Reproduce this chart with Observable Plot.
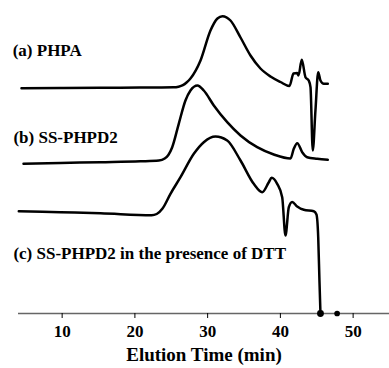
<!DOCTYPE html>
<html>
<head>
<meta charset="utf-8">
<script src="https://cdn.jsdelivr.net/npm/d3@7"></script>
<script src="https://cdn.jsdelivr.net/npm/@observablehq/plot@0.6"></script>
<style>
  html, body { margin: 0; padding: 0; background: #fff; }
</style>
</head>
<body>
<div id="chart"></div>
<script>
// Elution time (min) and detector response (arbitrary units, stacked traces)
const timeA = [4.41, 9.8, 15.2, 20.7, 25.3, 26.0, 26.6, 27.1, 27.64, 29.02, 30.39, 31.35, 32.04, 33.14, 34.52, 35.89, 37.26, 38.64, 40.01, 41.25, 41.80, 42.31, 42.49, 42.94, 43.45, 43.90, 44.14, 44.45, 44.82, 45.20, 45.51, 45.97, 46.52];
const respA = [225.3, 225.5, 225.7, 226.0, 226.2, 226.8, 228.3, 231, 235, 253, 283, 295, 297.3, 293, 276, 258, 245, 237, 231.5, 227.5, 240, 240.5, 238, 253.7, 236.3, 233, 226.3, 163, 203, 241.3, 233, 229.7, 229.7];

const timeB = [4.69, 9.77, 15.27, 20.77, 23.3, 24.1, 24.6, 25.13, 26.03, 26.95, 27.64, 28.60, 29.47, 30.85, 32.69, 34.52, 36.81, 39.09, 41.39, 41.84, 42.32, 43.00, 43.68, 45.06, 46.52];
const respB = [149.7, 150.5, 151.3, 152.2, 153, 155, 158.5, 166.3, 189.7, 213, 223, 228, 223, 208, 191.3, 178, 166.3, 159, 155, 164.7, 170.3, 161.3, 156.3, 154.7, 153.7];

const timeC = [4.04, 9.77, 15.27, 22.3, 23.0, 23.8, 24.89, 26.27, 28.10, 29.47, 31.08, 32.69, 34.52, 36.34, 37.50, 38.41, 38.80, 39.56, 40.25, 40.70, 41.16, 41.62, 42.31, 43.22, 44.59, 44.96, 45.20, 45.37, 45.51];
const respC = [102.3, 101.3, 100.3, 98.2, 99.5, 105, 119.7, 136.3, 159.7, 171.3, 177, 173, 153, 129.7, 121.3, 131.3, 135.7, 129.7, 116.3, 78, 106.3, 111.5, 107, 103.7, 102.3, 99, 76.3, 33, 0];

const markerTime = [45.51, 47.8];
const markerResp = [0, 0];

const xTicks = [10, 20, 30, 40, 50];

const traceNames = ["(a) PHPA", "(b) SS-PHPD2", "(c) SS-PHPD2 in the presence of DTT"];
const traceLabelTime = [3.2, 3.3, 3.3];
const traceLabelResp = [263, 176.3, 60.2];

const axisTitle = "Elution Time (min)";

const series = [
  {t: timeA, r: respA},
  {t: timeB, r: respB},
  {t: timeC, r: respC}
];
const lines = series.flatMap((s, k) => s.t.map((t, i) => ({trace: k, t, r: s.r[i]})));
const markers = markerTime.map((t, i) => ({t, r: markerResp[i], big: i === 0}));
const labels = traceNames.map((name, i) => ({name, t: traceLabelTime[i], r: traceLabelResp[i]}));

const chart = Plot.plot({
  width: 389,
  height: 368,
  marginLeft: 18,
  marginRight: 0,
  marginTop: 0,
  marginBottom: 55,
  style: {
    fontFamily: "'Liberation Serif', 'Times New Roman', serif",
    fontWeight: "bold",
    fontSize: "17px",
    color: "#000",
    background: "#fff"
  },
  x: {domain: [4, 55]},
  y: {domain: [0, 313], axis: null},
  marks: [
    Plot.ruleY([0], {stroke: "#666", strokeWidth: 1.3}),
    Plot.axisX({ticks: xTicks, tickSize: 5, tickPadding: 6, label: null, fontSize: 17, fontWeight: "bold", fill: "#000", stroke: "#000"}),
    Plot.line(lines, {x: "t", y: "r", z: "trace", stroke: "#000", strokeWidth: 2.5, curve: "monotone-x", strokeLinejoin: "round"}),
    Plot.dot(markers, {x: "t", y: "r", r: d => d.big ? 1.6 : 1.1, fill: "#000", stroke: null}),
    Plot.text(labels, {x: "t", y: "r", text: "name", textAnchor: "start", lineAnchor: "middle", fontSize: 17, fontWeight: "bold", fill: "#000"}),
    Plot.text([axisTitle], {frameAnchor: "bottom", dy: 41, lineAnchor: "middle", fontSize: 19, fontWeight: "bold", fill: "#000"})
  ]
});
document.getElementById("chart").appendChild(chart);
</script>
</body>
</html>
